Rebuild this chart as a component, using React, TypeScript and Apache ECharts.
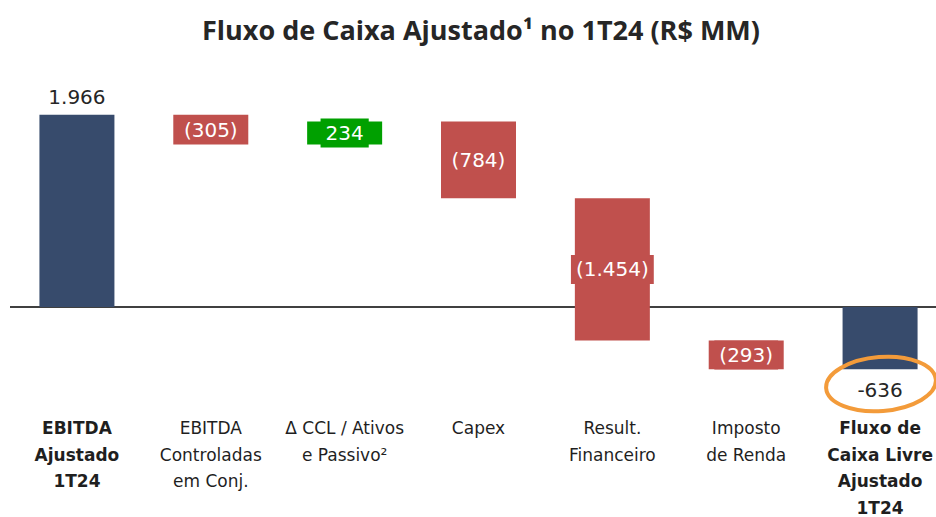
import React, { useEffect, useRef } from "react";
import * as echarts from "echarts";

const titleText = "Fluxo de Caixa Ajustado¹ no 1T24 (R$ MM)";
const categories = [
  "EBITDA\nAjustado\n1T24",
  "EBITDA\nControladas\nem Conj.",
  "Δ CCL / Ativos\ne Passivo²",
  "Capex",
  "Result.\nFinanceiro",
  "Imposto\nde Renda",
  "Fluxo de\nCaixa Livre\nAjustado\n1T24",
];
const values = [1966, -305, 234, -784, -1454, -293, -636];
const isTotal = [true, false, false, false, false, false, true];
const valueLabels = ["1.966", "(305)", "234", "(784)", "(1.454)", "(293)", "-636"];

const BLUE = "#374B6C";
const RED = "#C0504D";
const GREEN = "#00A000";

export default function App() {
  const ref = useRef<HTMLDivElement>(null);
  useEffect(() => {
    if (!ref.current) return;
    const chart = echarts.init(ref.current, null, { renderer: "svg" });

    const bases: number[] = [];
    const heights: number[] = [];
    let running = 0;
    values.forEach((v, i) => {
      if (isTotal[i]) {
        bases.push(0);
        heights.push(v);
        running = v;
      } else {
        const end = running + v;
        bases.push(Math.min(running, end));
        heights.push(Math.abs(v));
        running = end;
      }
    });

    const valueFont = "'DejaVu Sans', sans-serif";

    const barData = heights.map((h, i) => {
      const total = isTotal[i];
      const color = total ? BLUE : values[i] < 0 ? RED : GREEN;
      const label = total
        ? {
            show: true,
            position: values[i] >= 0 ? "top" : "bottom",
            distance: values[i] >= 0 ? 8 : 11,
            formatter: valueLabels[i],
            color: "#262626",
            fontSize: 20,
            fontFamily: valueFont,
          }
        : {
            show: true,
            position: "inside",
            formatter: valueLabels[i],
            color: "#FFFFFF",
            fontSize: 20,
            lineHeight: 23,
            fontFamily: valueFont,
            backgroundColor: color,
            padding: [3, 5],
          };
      return { value: h, itemStyle: { color }, label };
    });

    chart.setOption({
      animation: false,
      backgroundColor: "#FFFFFF",
      graphic: [
        {
          type: "text",
          x: 481,
          y: 29,
          style: {
            text: titleText,
            textAlign: "center",
            textVerticalAlign: "middle",
            fontFamily: "'Open Sans', sans-serif",
            fontWeight: "bold",
            fontSize: 27,
            fill: "#262626",
          },
        },
        {
          type: "ellipse",
          x: 881,
          y: 384,
          rotation: 0.08,
          shape: { cx: 0, cy: 0, rx: 55, ry: 27 },
          style: { fill: "none", stroke: "#F39B3A", lineWidth: 4 },
          z: 100,
        },
      ],
      grid: {
        left: 10,
        top: 62.4,
        width: 937,
        height: 342.5,
        containLabel: false,
        outerBoundsMode: "none",
      },
      xAxis: {
        type: "category",
        data: categories.map((c, i) => ({
          value: c,
          textStyle: { fontWeight: isTotal[i] ? "bold" : "normal" },
        })),
        axisLine: { show: false },
        axisTick: { show: false },
        axisLabel: {
          interval: 0,
          margin: 10,
          fontSize: 17,
          lineHeight: 26.5,
          color: "#1F1F1F",
          fontFamily: "'DejaVu Sans', sans-serif",
          verticalAlign: "top",
        },
      },
      yAxis: {
        type: "value",
        min: -1000,
        max: 2500,
        show: false,
        splitLine: { show: false },
      },
      series: [
        {
          type: "bar",
          stack: "w",
          stackStrategy: "all",
          barWidth: 75,
          data: bases,
          itemStyle: { color: "transparent" },
          silent: true,
          label: { show: false },
        },
        {
          type: "bar",
          stack: "w",
          stackStrategy: "all",
          barWidth: 75,
          data: barData,
          markLine: {
            silent: true,
            symbol: "none",
            label: { show: false },
            lineStyle: { color: "#404040", width: 2, type: "solid" },
            data: [{ yAxis: 0 }],
            z: 1,
          },
        },
      ],
    });
    return () => chart.dispose();
  }, []);
  return (
    <div
      ref={ref}
      style={{ position: "fixed", left: 0, top: 0, width: 936, height: 517 }}
    />
  );
}
